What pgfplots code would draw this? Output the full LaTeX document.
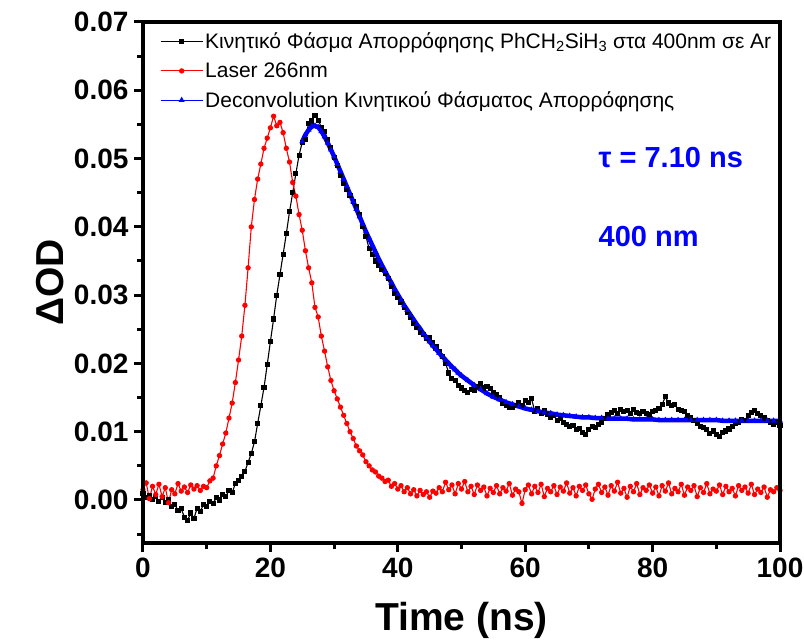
\documentclass[border=0pt]{standalone}
\usepackage{pgfplots}
\usepackage{pgfplotstable}
\usepackage{fontspec}
\setmainfont{Liberation Sans}
\pgfplotsset{compat=1.18}

\pgfplotstableread{
t v
0.0 0.0010
0.5 0.0004
1.0 0.0007
1.5 0.0001
2.0 0.0005
2.5 -0.0002
3.0 0.0003
3.5 -0.0004
4.0 0.0000
4.5 -0.0009
5.0 -0.0006
5.5 -0.0016
6.0 -0.0013
6.5 -0.0025
7.0 -0.0030
7.5 -0.0019
8.0 -0.0027
8.5 -0.0012
9.0 -0.0017
9.5 -0.0006
10.0 -0.0010
10.5 -0.0002
11.0 -0.0005
11.5 0.0003
12.0 0.0000
12.5 0.0008
13.0 0.0005
13.5 0.0014
14.0 0.0011
14.5 0.0024
15.0 0.0028
15.5 0.0034
16.0 0.0042
16.5 0.0055
17.0 0.0068
17.5 0.0085
18.0 0.0112
18.5 0.0138
19.0 0.0165
19.5 0.0198
20.0 0.0232
20.5 0.0265
21.0 0.0300
21.5 0.0330
22.0 0.0360
22.5 0.0390
23.0 0.0422
23.5 0.0450
24.0 0.0478
24.5 0.0505
25.0 0.0524
25.5 0.0528
26.0 0.0552
26.5 0.0555
27.0 0.0563
27.5 0.0556
28.0 0.0546
28.5 0.0540
29.0 0.0528
29.5 0.0516
30.0 0.0502
30.5 0.0490
31.0 0.0476
31.5 0.0464
32.0 0.0455
32.5 0.0446
33.0 0.0437
33.5 0.0430
34.0 0.0418
34.5 0.0400
35.0 0.0386
35.5 0.0368
36.0 0.0360
36.5 0.0350
37.0 0.0344
37.5 0.0338
38.0 0.0332
38.5 0.0325
39.0 0.0312
39.5 0.0302
40.0 0.0296
40.5 0.0290
41.0 0.0282
41.5 0.0275
42.0 0.0268
42.5 0.0258
43.0 0.0252
43.5 0.0246
44.0 0.0242
44.5 0.0236
45.0 0.0238
45.5 0.0230
46.0 0.0224
46.5 0.0218
47.0 0.0210
47.5 0.0200
48.0 0.0186
48.5 0.0178
49.0 0.0175
49.5 0.0168
50.0 0.0164
50.5 0.0160
51.0 0.0157
51.5 0.0162
52.0 0.0160
52.5 0.0166
53.0 0.0170
53.5 0.0164
54.0 0.0166
54.5 0.0163
55.0 0.0158
55.5 0.0154
56.0 0.0150
56.5 0.0141
57.0 0.0138
57.5 0.0135
58.0 0.0136
58.5 0.0138
59.0 0.0142
59.5 0.0138
60.0 0.0146
60.5 0.0143
61.0 0.0148
61.5 0.0130
62.0 0.0134
62.5 0.0127
63.0 0.0131
63.5 0.0125
64.0 0.0121
64.5 0.0124
65.0 0.0117
65.5 0.0119
66.0 0.0114
66.5 0.0110
67.0 0.0107
67.5 0.0109
68.0 0.0103
68.5 0.0105
69.0 0.0099
69.5 0.0096
70.0 0.0103
70.5 0.0108
71.0 0.0106
71.5 0.0111
72.0 0.0113
72.5 0.0119
73.0 0.0125
73.5 0.0128
74.0 0.0131
74.5 0.0127
75.0 0.0132
75.5 0.0129
76.0 0.0131
76.5 0.0127
77.0 0.0132
77.5 0.0128
78.0 0.0126
78.5 0.0130
79.0 0.0127
79.5 0.0125
80.0 0.0129
80.5 0.0131
81.0 0.0134
81.5 0.0140
82.0 0.0151
82.5 0.0142
83.0 0.0138
83.5 0.0140
84.0 0.0133
84.5 0.0131
85.0 0.0129
85.5 0.0124
86.0 0.0120
86.5 0.0116
87.0 0.0112
87.5 0.0108
88.0 0.0106
88.5 0.0103
89.0 0.0098
89.5 0.0101
90.0 0.0096
90.5 0.0093
91.0 0.0099
91.5 0.0101
92.0 0.0104
92.5 0.0108
93.0 0.0112
93.5 0.0114
94.0 0.0118
94.5 0.0117
95.0 0.0124
95.5 0.0128
96.0 0.0131
96.5 0.0126
97.0 0.0124
97.5 0.0120
98.0 0.0117
98.5 0.0114
99.0 0.0110
99.5 0.0113
100.0 0.0109
}\kinetic

\pgfplotstableread{
t v
0.0 0.0015
0.5 0.0025
1.0 0.0002
1.5 0.0020
2.0 0.0008
2.5 0.0023
3.0 0.0005
3.5 0.0018
4.0 -0.0004
4.5 0.0015
5.0 0.0009
5.5 0.0024
6.0 0.0013
6.5 0.0019
7.0 0.0011
7.5 0.0022
8.0 0.0016
8.5 0.0021
9.0 0.0014
9.5 0.0020
10.0 0.0018
10.5 0.0028
11.0 0.0032
11.5 0.0050
12.0 0.0065
12.5 0.0082
13.0 0.0098
13.5 0.0120
14.0 0.0142
14.5 0.0172
15.0 0.0205
15.5 0.0240
16.0 0.0285
16.5 0.0340
17.0 0.0400
17.5 0.0440
18.0 0.0470
18.5 0.0492
19.0 0.0515
19.5 0.0530
20.0 0.0545
20.5 0.0562
21.0 0.0548
21.5 0.0553
22.0 0.0538
22.5 0.0515
23.0 0.0495
23.5 0.0465
24.0 0.0445
24.5 0.0418
25.0 0.0395
25.5 0.0365
26.0 0.0340
26.5 0.0318
27.0 0.0282
27.5 0.0268
28.0 0.0240
28.5 0.0218
29.0 0.0195
29.5 0.0175
30.0 0.0160
30.5 0.0148
31.0 0.0136
31.5 0.0124
32.0 0.0112
32.5 0.0100
33.0 0.0090
33.5 0.0079
34.0 0.0072
34.5 0.0066
35.0 0.0056
35.5 0.0050
36.0 0.0044
36.5 0.0041
37.0 0.0035
37.5 0.0032
38.0 0.0027
38.5 0.0029
39.0 0.0020
39.5 0.0024
40.0 0.0016
40.5 0.0021
41.0 0.0012
41.5 0.0018
42.0 0.0009
42.5 0.0015
43.0 0.0006
43.5 0.0014
44.0 0.0008
44.5 0.0012
45.0 0.0004
45.5 0.0013
46.0 0.0010
46.5 0.0018
47.0 0.0012
47.5 0.0026
48.0 0.0015
48.5 0.0022
49.0 0.0009
49.5 0.0024
50.0 0.0016
50.5 0.0027
51.0 0.0012
51.5 0.0020
52.0 0.0008
52.5 0.0022
53.0 0.0014
53.5 0.0019
54.0 0.0006
54.5 0.0017
55.0 0.0011
55.5 0.0021
56.0 0.0009
56.5 0.0018
57.0 0.0013
57.5 0.0024
58.0 0.0007
58.5 0.0016
59.0 0.0012
59.5 -0.0005
60.0 0.0015
60.5 0.0022
61.0 0.0009
61.5 0.0020
62.0 0.0011
62.5 0.0023
63.0 0.0005
63.5 0.0017
64.0 0.0012
64.5 0.0021
65.0 0.0008
65.5 0.0019
66.0 0.0013
66.5 0.0025
67.0 0.0010
67.5 0.0018
68.0 0.0006
68.5 0.0020
69.0 0.0014
69.5 0.0022
70.0 0.0009
70.5 0.0001
71.0 0.0016
71.5 0.0023
72.0 0.0011
72.5 0.0019
73.0 0.0007
73.5 0.0021
74.0 0.0013
74.5 0.0026
75.0 0.0010
75.5 0.0017
76.0 0.0004
76.5 0.0020
77.0 0.0012
77.5 0.0024
78.0 0.0008
78.5 0.0018
79.0 0.0014
79.5 0.0022
80.0 0.0010
80.5 0.0019
81.0 0.0006
81.5 0.0021
82.0 0.0013
82.5 0.0025
83.0 0.0009
83.5 0.0017
84.0 0.0012
84.5 0.0023
85.0 0.0007
85.5 0.0019
86.0 0.0014
86.5 0.0021
87.0 0.0005
87.5 0.0018
88.0 0.0011
88.5 0.0024
89.0 0.0009
89.5 0.0016
90.0 0.0013
90.5 0.0022
91.0 0.0008
91.5 0.0020
92.0 0.0012
92.5 0.0017
93.0 0.0006
93.5 0.0021
94.0 0.0014
94.5 0.0019
95.0 0.0010
95.5 0.0023
96.0 0.0008
96.5 0.0016
97.0 0.0011
97.5 0.0019
98.0 0.0004
98.5 0.0015
99.0 0.0012
99.5 0.0018
100.0 0.0014
}\laser

\pgfplotstableread{
t v
25.0 0.0525
25.5 0.0535
26.0 0.0542
26.5 0.0547
27.0 0.0548
27.5 0.0546
28.0 0.0540
28.5 0.0532
29.0 0.0523
29.5 0.0513
30.0 0.0503
30.5 0.0492
31.0 0.0481
31.5 0.0470
32.0 0.0459
32.5 0.0448
33.0 0.0437
33.5 0.0426
34.0 0.0415
34.5 0.0404
35.0 0.0393
35.5 0.0383
36.0 0.0373
36.5 0.0363
37.0 0.0353
37.5 0.0344
38.0 0.0335
38.5 0.0326
39.0 0.0318
39.5 0.0309
40.0 0.0301
40.5 0.0293
41.0 0.0285
41.5 0.0278
42.0 0.0271
42.5 0.0264
43.0 0.0257
43.5 0.0251
44.0 0.0244
44.5 0.0238
45.0 0.0232
45.5 0.0226
46.0 0.0221
46.5 0.0215
47.0 0.0210
47.5 0.0205
48.0 0.0200
48.5 0.0195
49.0 0.0191
49.5 0.0186
50.0 0.0182
51.0 0.0175
52.0 0.0168
53.0 0.0162
54.0 0.0156
55.0 0.0151
56.0 0.0147
57.0 0.0143
58.0 0.0140
59.0 0.0137
60.0 0.0134
61.0 0.0132
62.0 0.0130
63.0 0.0128
64.0 0.0127
65.0 0.0125
66.0 0.0124
67.0 0.0123
68.0 0.0122
69.0 0.0121
70.0 0.0121
71.0 0.0120
72.0 0.0120
73.0 0.0119
74.0 0.0119
75.0 0.0119
76.0 0.0119
77.0 0.0118
78.0 0.0118
79.0 0.0118
80.0 0.0118
81.0 0.0117
82.0 0.0117
83.0 0.0117
84.0 0.0117
85.0 0.0117
86.0 0.0117
87.0 0.0117
88.0 0.0117
89.0 0.0117
90.0 0.0117
91.0 0.0116
92.0 0.0116
93.0 0.0116
94.0 0.0116
95.0 0.0116
96.0 0.0116
97.0 0.0116
98.0 0.0116
99.0 0.0116
100.0 0.0116
}\deconv

\begin{document}
\begin{tikzpicture}
\begin{axis}[
  scale only axis,
  width=637pt, height=521pt,
  xmin=0, xmax=100,
  ymin=-0.0063, ymax=0.07,
  axis line style={line width=3.5pt},
  xtick={0,20,...,100},
  minor xtick={10,30,50,70,90},
  ytick={0,0.01,0.02,0.03,0.04,0.05,0.06,0.07},
  minor ytick={-0.005,0.005,0.015,0.025,0.035,0.045,0.055,0.065},
  xtick pos=bottom, ytick pos=left,
  tick align=outside,
  major tick length=9pt, minor tick length=6pt,
  every tick/.style={line width=3pt, black},
  scaled y ticks=false,
  /pgf/number format/assume math mode=true,
  yticklabel style={/pgf/number format/fixed, /pgf/number format/fixed zerofill, /pgf/number format/precision=2},
  tick label style={font=\fontsize{28}{28}\selectfont\bfseries},
  xticklabel style={yshift=-2pt},
  yticklabel style={xshift=-2pt},
  xlabel={Time (ns)},
  ylabel={ΔOD},
  label style={font=\fontsize{39}{39}\selectfont\bfseries},
  xlabel style={at={(axis description cs:0.5,-0.148)}, anchor=center},
  ylabel style={at={(axis description cs:-0.146,0.5)}, anchor=center},
  legend cell align=left,
  legend style={at={(axis description cs:0.025,0.985)}, anchor=north west, draw=none, fill=none,
    font=\fontsize{21}{22}\selectfont, row sep=8.5pt, inner sep=1pt,
    /tikz/every odd column/.append style={column sep=0pt},
    /tikz/every even column/.append style={column sep=7pt}},
  legend image code/.code={\draw[mark repeat=2,mark phase=2] plot coordinates {(0pt,0pt) (21pt,0pt) (42pt,0pt)};},
  clip=false,
]
\addplot[black, line width=1.1pt, mark=square*, mark size=2pt] table[x=t,y=v] {\kinetic};
\addlegendentry{Κινητικό Φάσμα Απορρόφησης PhCH\textsubscript{2}SiH\textsubscript{3} στα 400nm σε Ar}
\addplot[red, line width=1.1pt, mark=*, mark size=2.1pt] table[x=t,y=v] {\laser};
\addlegendentry{Laser 266nm}
\addplot[blue, line width=4.5pt, forget plot] table[x=t,y=v] {\deconv};
\addplot[blue, line width=1.1pt, mark=triangle*, mark size=2.4pt] table[x=t,y=v] {\deconv};
\addlegendentry{Deconvolution Κινητικού Φάσματος Απορρόφησης}
\node[anchor=west, text=blue, font=\fontsize{29}{29}\selectfont\bfseries, inner sep=0pt] at (axis cs:71.5,0.0501) {τ = 7.10 ns};
\node[anchor=west, text=blue, font=\fontsize{29}{29}\selectfont\bfseries, inner sep=0pt] at (axis cs:71.5,0.0386) {400 nm};
\coordinate (bl) at (rel axis cs:0,0);
\coordinate (tr) at (rel axis cs:1,1);
\end{axis}
\fill[black] ([xshift=-2.2pt,yshift=-2.2pt]bl) rectangle ([xshift=2.2pt]bl |- tr);
\fill[black] ([xshift=-2.2pt,yshift=-2.2pt]bl) rectangle ([yshift=2.2pt]tr |- bl);
\fill[black] ([xshift=-2.2pt,yshift=-2.2pt]tr -| bl) rectangle ([xshift=2.2pt,yshift=2.2pt]tr);
\fill[black] ([xshift=-2.2pt,yshift=-2.2pt]tr |- bl) rectangle ([xshift=2.2pt,yshift=2.2pt]tr);
\pgfresetboundingbox
\path[use as bounding box] ([xshift=-143pt,yshift=-100pt]bl) rectangle ([xshift=24pt,yshift=22pt]tr);
\end{tikzpicture}
\end{document}
